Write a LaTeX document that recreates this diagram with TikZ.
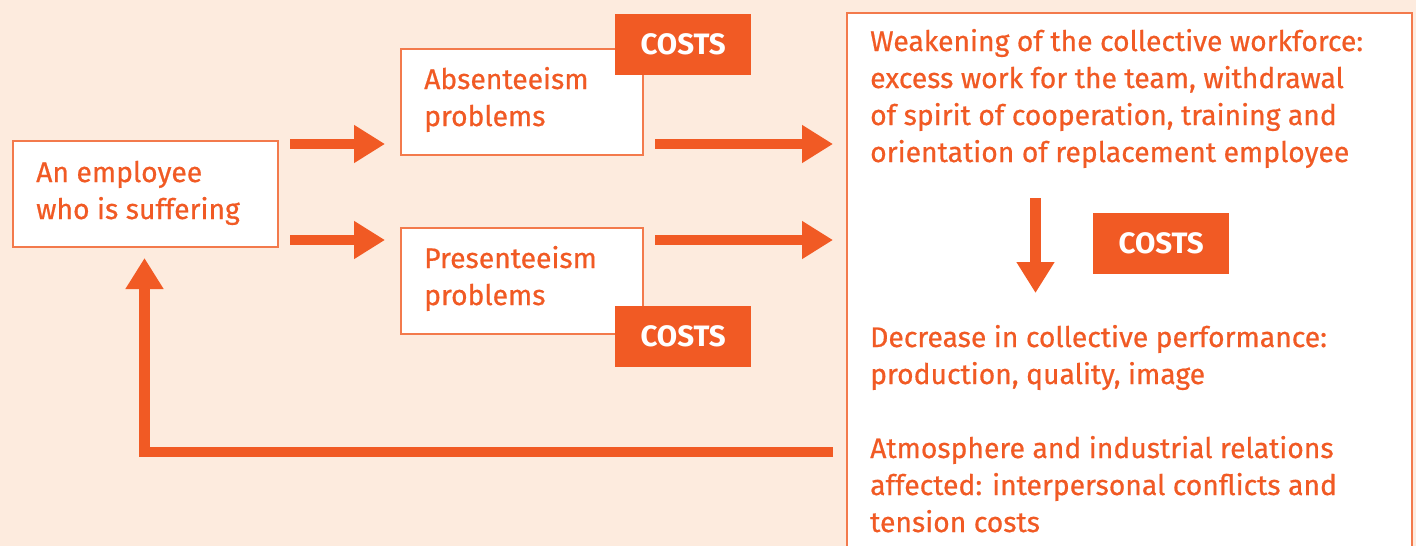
\documentclass[tikz,border=0pt]{standalone}
\usepackage{fontspec}
\setmainfont{Fira Sans}
\newfontfamily\medfont{Fira Sans}[FakeBold=0.6]
\usetikzlibrary{arrows.meta,calc}
\definecolor{bg}{HTML}{FDEBDE}
\definecolor{org}{HTML}{F15A24}
\definecolor{orgline}{HTML}{F37A4C}
\begin{document}
\begin{tikzpicture}[x=1pt,y=-1pt,
  box/.style={draw=orgline,line width=1.5pt,fill=white,inner sep=0pt,anchor=north west},
  txt/.style={text=org,font=\medfont\fontsize{28.3}{37}\selectfont,align=left,anchor=base west,inner sep=0pt},
  costs/.style={fill=org,text=white,font=\fontsize{29.5}{29.5}\selectfont\bfseries,minimum width=136pt,minimum height=61pt,inner sep=0pt,anchor=north west},
  fat/.style={draw=org,line width=10.5pt,-{Triangle[width=36pt,length=31pt]}}]
\fill[bg] (0,0) rectangle (1416,546);
\useasboundingbox (0,0) rectangle (1416,546);
% boxes
\node[box,minimum width=265pt,minimum height=106pt] (emp) at (12,140) {};
\node[box,minimum width=242pt,minimum height=106pt] (abs) at (400,48) {};
\node[box,minimum width=242pt,minimum height=106pt] (pre) at (400,227) {};
\node[box,minimum width=565pt,minimum height=560pt] (big) at (846,12) {};
% costs labels
\node[costs] (c1) at (615,14) {COSTS};
\node[costs] (c2) at (615,306) {COSTS};
\node[costs] (c3) at (1093,213) {COSTS};
% texts (anchor = baseline of last line)
\node[txt] (t-emp) at (36,219) {An employee\\who is suffering};
\node[txt] (t-abs) at (424,126) {Absenteeism\\problems};
\node[txt] (t-pre) at (424,305) {Presenteeism\\problems};
\node[txt] (t-w) at (870,162) {Weakening of the collective workforce:\\excess work for the team, withdrawal\\of spirit of cooperation, training and\\orientation of replacement employee};
\node[txt] (t-d) at (870,384) {Decrease in collective performance:\\production, quality, image};
\node[txt] (t-a) at (870,532) {Atmosphere and industrial relations\\affected: interpersonal conflicts and\\tension costs};
% connector points
\coordinate (a1s) at (290,144);
\coordinate (a1e) at (385,144);
\coordinate (a2s) at (290,240);
\coordinate (a2e) at (385,240);
\coordinate (a3s) at (655,144);
\coordinate (a3e) at (833,144);
\coordinate (a4s) at (655,240);
\coordinate (a4e) at (833,240);
\coordinate (ds) at (1035.5,198);
\coordinate (de) at (1035.5,293);
\coordinate (ls) at (833,452);
\coordinate (le) at (144.5,258);
\draw[fat] (a1s) -- (a1e);
\draw[fat] (a2s) -- (a2e);
\draw[fat] (a3s) -- (a3e);
\draw[fat] (a4s) -- (a4e);
\draw[fat] (ds) -- (de);
\draw[fat] (ls) -| (le);
\end{tikzpicture}
\end{document}
